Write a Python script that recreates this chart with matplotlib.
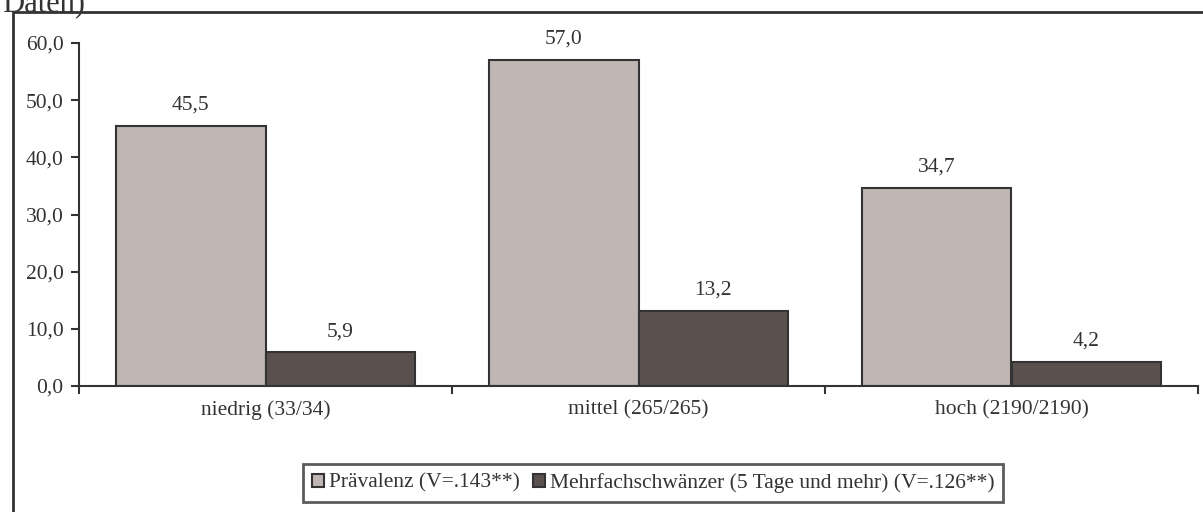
import matplotlib.pyplot as plt
import matplotlib.patches as mpatches
from matplotlib.ticker import FuncFormatter

# data
categories = ['niedrig (33/34)', 'mittel (265/265)', 'hoch (2190/2190)']
praevalenz = [45.5, 57.0, 34.7]
mehrfach = [5.9, 13.2, 4.2]
series_names = ['Prävalenz (V=.143**)', 'Mehrfachschwänzer (5 Tage und mehr) (V=.126**)']

light = '#c0b6b4'
dark = '#5a504e'
edge = '#333333'
txt = '#333333'

plt.rcParams['font.family'] = ['Liberation Serif', 'DejaVu Serif']
plt.rcParams['font.size'] = 15.5

fig = plt.figure(figsize=(12.03, 5.12), dpi=100)
W, H = 1203, 512

# outer frame (runs off the right edge)
fig.patches.append(mpatches.Rectangle((13 / W, -0.1), 1.2, 1 - 12 / H + 0.1,
                                      transform=fig.transFigure, fill=False,
                                      edgecolor=edge, linewidth=2))
# cut-off heading
fig.text(0.002, 1 - 11 / H, 'Daten)', fontsize=22, color=txt, va='baseline', ha='left')

ax = fig.add_axes([79 / W, 1 - 386 / H, (1198 - 79) / W, (386 - 43) / H])

x = [i + 0.5 for i in range(len(categories))]
bw = 0.4
b1 = ax.bar([v - bw / 2 for v in x], praevalenz, bw, color=light, edgecolor=edge, linewidth=1.5)
b2 = ax.bar([v + bw / 2 for v in x], mehrfach, bw, color=dark, edgecolor=edge, linewidth=1.5)

for bars, vals in [(b1, praevalenz), (b2, mehrfach)]:
    for r, v in zip(bars, vals):
        ax.annotate(f'{v:.1f}'.replace('.', ','), (r.get_x() + r.get_width() / 2, v),
                    xytext=(0, 8), textcoords='offset points', ha='center', va='bottom',
                    color=txt)

ax.set_xlim(0, 3)
ax.set_ylim(0, 60)
ax.set_yticks(range(0, 61, 10))
ax.yaxis.set_major_formatter(FuncFormatter(lambda v, p: f'{v:.1f}'.replace('.', ',')))
ax.set_xticks([0, 1, 2, 3])
ax.set_xticklabels([])
ax.set_xticks(x, minor=True)
ax.set_xticklabels(categories, minor=True)
ax.tick_params(axis='x', which='minor', length=0, pad=10, labelcolor=txt)
ax.tick_params(axis='x', which='major', length=6, width=1.5, color=edge)
ax.tick_params(axis='y', length=6, width=1.5, color=edge, labelcolor=txt, pad=5)

for s in ['top', 'right']:
    ax.spines[s].set_visible(False)
for s in ['left', 'bottom']:
    ax.spines[s].set_color(edge)
    ax.spines[s].set_linewidth(1.5)

handles = [mpatches.Patch(facecolor=light, edgecolor=edge, linewidth=1.5),
           mpatches.Patch(facecolor=dark, edgecolor=edge, linewidth=1.5)]
leg = fig.legend(handles, series_names, loc='center', bbox_to_anchor=(653 / W, 1 - 483 / H),
                 ncol=2, frameon=True, fancybox=False,
                 handlelength=0.6, handleheight=0.6, handletextpad=0.2, columnspacing=0.6,
                 borderpad=0.4, labelcolor=txt)
leg.get_frame().set_edgecolor(edge)
leg.get_frame().set_linewidth(2)

fig.savefig('out.png', dpi=100)
